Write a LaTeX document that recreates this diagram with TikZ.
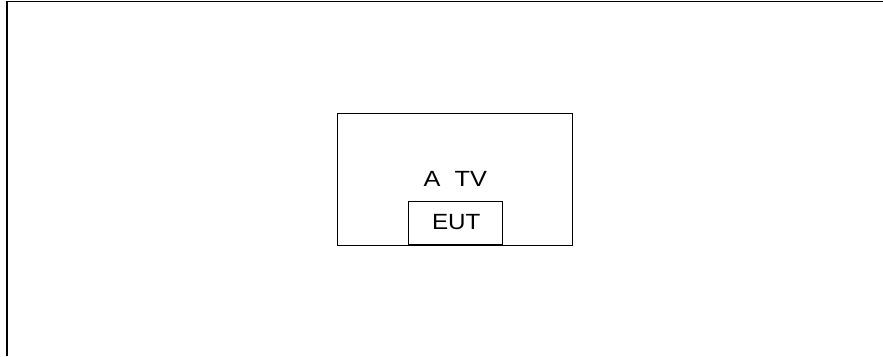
\documentclass[tikz,border=0pt]{standalone}
\usepackage{fontspec}
\usepackage{graphicx}
\setmainfont{Liberation Sans}
\begin{document}
\begin{tikzpicture}[x=1pt,y=-1pt,
  frame/.style={draw=black,line width=1.6pt},
  box/.style={draw=black,line width=1pt},
  lbl/.style={font=\fontsize{22}{24}\selectfont,inner sep=0pt}]
\useasboundingbox (0,0) rectangle (883,356);
\coordinate (fl) at (6.8,356);
\coordinate (fc) at (6.8,1.6);
\coordinate (fr) at (883,1.6);
\draw[frame] (fl) -- (fc) -- (fr);
\node[box,minimum width=235pt,minimum height=132pt,inner sep=0pt] (tv) at (455,179) {};
\node[box,minimum width=94pt,minimum height=43.5pt,inner sep=0pt,anchor=south] (eut) at (455.3,245) {};
\node[lbl] (eutl) at (456.2,221.7) {\scalebox{1.1}[1]{EUT}};
\node[lbl] (tvl) at (455.3,178.5) {\scalebox{1.15}[1]{A\ \ TV}};
\end{tikzpicture}
\end{document}
